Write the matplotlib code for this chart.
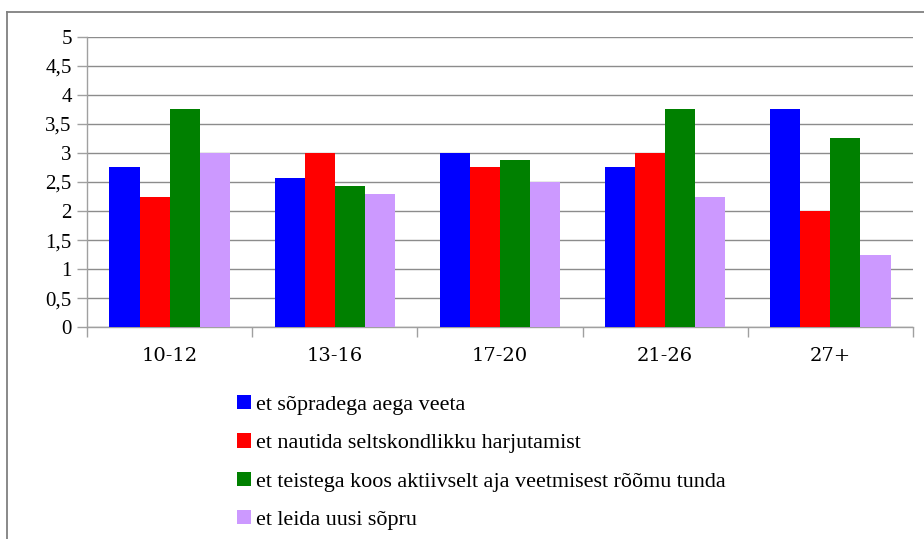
import matplotlib.pyplot as plt
from matplotlib.lines import Line2D
import numpy as np

# Data
categories = ['10-12', '13-16', '17-20', '21-26', '27+']
series_names = [
    'et sõpradega aega veeta',
    'et nautida seltskondlikku harjutamist',
    'et teistega koos aktiivselt aja veetmisest rõõmu tunda',
    'et leida uusi sõpru',
]
spend_time = [2.75, 2.57, 3.0, 2.75, 3.75]
enjoy_training = [2.25, 3.0, 2.75, 3.0, 2.0]
joy_together = [3.75, 2.43, 2.88, 3.75, 3.25]
new_friends = [3.0, 2.29, 2.5, 2.25, 1.25]
colors = ['#0000FF', '#FF0000', '#008000', '#CC99FF']

W, H = 924, 539
fig = plt.figure(figsize=(W / 100, H / 100), dpi=100)
ax = fig.add_axes([87 / W, 1 - 327.3 / H, (913 - 87) / W, (327.3 - 36.7) / H])

x = np.arange(len(categories))
bw = 0.182
values = [spend_time, enjoy_training, joy_together, new_friends]
for i, vals in enumerate(values):
    ax.bar(x + (i - 1.5) * bw, vals, width=bw, color=colors[i],
           label=series_names[i], zorder=3)

ax.set_xlim(-0.5, len(categories) - 0.5)
ax.set_ylim(0, 5)
ax.set_yticks(np.arange(0, 5.01, 0.5))
ax.set_yticklabels([f'{v:g}'.replace('.', ',') for v in np.arange(0, 5.01, 0.5)],
                   fontsize=15, family='Liberation Serif')
ax.grid(axis='y', color='#8c8c8c', linewidth=1, zorder=0)

# category boundaries as ticks, labels on minor ticks
ax.set_xticks(np.arange(-0.5, len(categories), 1.0))
ax.set_xticklabels([])
ax.set_xticks(x, minor=True)
ax.set_xticklabels(categories, minor=True, fontsize=14, family='DejaVu Serif')
ax.tick_params(axis='x', which='major', length=7, color='#a0a0a0', width=1)
ax.tick_params(axis='x', which='minor', length=0, pad=14)
ax.tick_params(axis='y', length=7, color='#a0a0a0', width=1, pad=4)

for s in ['top', 'right']:
    ax.spines[s].set_visible(False)
for s in ['left', 'bottom']:
    ax.spines[s].set_color('#a0a0a0')
    ax.spines[s].set_linewidth(1)

handles, labels = ax.get_legend_handles_labels()
fig.legend(handles, labels, loc='upper left',
           bbox_to_anchor=(237 / W, 1 - 395 / H), frameon=False,
           prop={'family': 'Liberation Serif', 'size': 15.9},
           handlelength=0.63, handleheight=0.63, handletextpad=0.25,
           labelspacing=0.83, borderpad=0, borderaxespad=0)

# outer chart border (cropped on right and bottom)
fig.add_artist(Line2D([7 / W, 1], [1 - 12 / H, 1 - 12 / H], color='#808080', lw=1.3))
fig.add_artist(Line2D([7 / W, 7 / W], [0, 1 - 12 / H], color='#808080', lw=1.3))

fig.savefig('out.png', dpi=100)
